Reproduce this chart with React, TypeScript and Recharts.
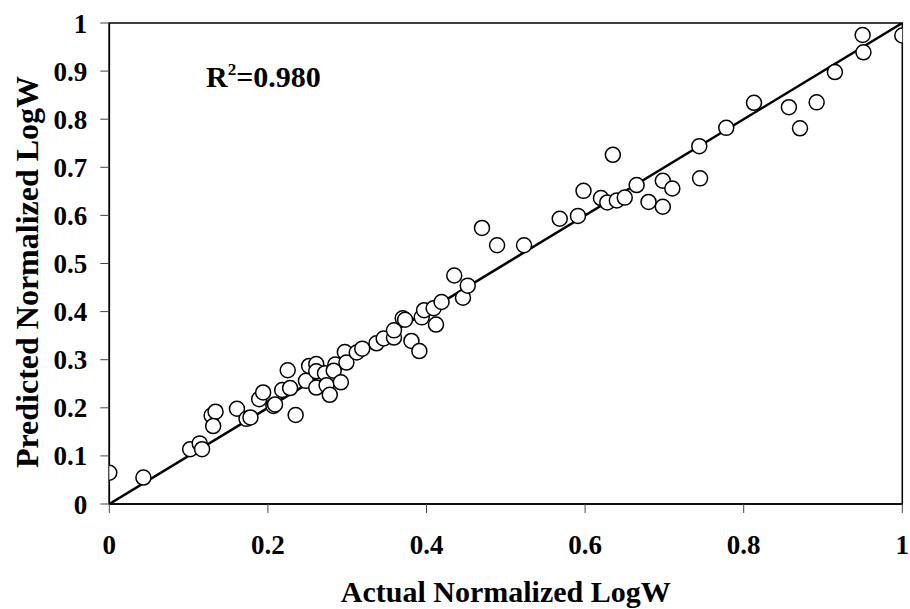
import React from 'react';
import { ScatterChart, Scatter, XAxis, YAxis, ReferenceArea } from 'recharts';

const actual = [
  0.0, 0.043, 0.102, 0.114, 0.117, 0.129, 0.134, 0.131, 0.161, 0.173,
  0.178, 0.189, 0.194, 0.207, 0.209, 0.218, 0.228, 0.225, 0.235, 0.248,
  0.252, 0.261, 0.261, 0.261, 0.272, 0.274, 0.278, 0.285, 0.283, 0.292,
  0.297, 0.299, 0.312, 0.319, 0.337, 0.346, 0.359, 0.359, 0.370, 0.373,
  0.381, 0.391, 0.394, 0.397, 0.409, 0.419, 0.412, 0.435, 0.446, 0.452,
  0.470, 0.489, 0.523, 0.568, 0.591, 0.598, 0.620, 0.628, 0.640, 0.650,
  0.665, 0.635, 0.680, 0.698, 0.698, 0.710, 0.744, 0.745, 0.778, 0.813,
  0.857, 0.871, 0.892, 0.915, 0.950, 0.951, 1.0,
];

const predicted = [
  0.065, 0.055, 0.114, 0.126, 0.114, 0.184, 0.192, 0.162, 0.198, 0.177,
  0.180, 0.218, 0.232, 0.204, 0.207, 0.237, 0.241, 0.278, 0.185, 0.256,
  0.287, 0.291, 0.276, 0.242, 0.272, 0.247, 0.227, 0.290, 0.277, 0.253,
  0.316, 0.294, 0.315, 0.323, 0.334, 0.344, 0.346, 0.361, 0.386, 0.383,
  0.339, 0.318, 0.388, 0.403, 0.407, 0.420, 0.373, 0.475, 0.429, 0.454,
  0.574, 0.538, 0.538, 0.593, 0.599, 0.651, 0.636, 0.627, 0.631, 0.637,
  0.663, 0.726, 0.628, 0.672, 0.618, 0.656, 0.744, 0.677, 0.782, 0.834,
  0.825, 0.781, 0.835, 0.898, 0.975, 0.939, 0.974,
];

const fitX = [0, 1];
const fitY = [0, 1];

const xTicks = [0, 0.2, 0.4, 0.6, 0.8, 1];
const yTicks = [0, 0.1, 0.2, 0.3, 0.4, 0.5, 0.6, 0.7, 0.8, 0.9, 1];

const xTitle = 'Actual Normalized LogW';
const yTitle = 'Predicted Normalized LogW';
const r2Label = '=0.980';

const points = actual.map((x, i) => ({ x, y: predicted[i] }));
const fitLine = fitX.map((x, i) => ({ x, y: fitY[i] }));

const FONT = '"Liberation Serif", "Times New Roman", serif';

const Circle = (props: any) => (
  <circle cx={props.cx} cy={props.cy} r={7.5} fill="#fff" stroke="#000" strokeWidth={1.5} />
);
const NoDot = () => <g />;

const tickStyle = { fontFamily: FONT, fontWeight: 700, fontSize: 27, fill: '#000' };

export default function App() {
  return (
    <div style={{ position: 'absolute', left: 0, top: 0, width: 910, height: 609, background: '#fff' }}>
      <ScatterChart width={910} height={609} margin={{ top: 23, right: 7.7, bottom: 0, left: 0 }}>
        <XAxis
          type="number"
          dataKey="x"
          domain={[0, 1]}
          ticks={xTicks}
          height={105}
          tickSize={9}
          tickMargin={22}
          tick={tickStyle}
          axisLine={{ stroke: '#000', strokeWidth: 1.5 }}
          tickLine={{ stroke: '#444', strokeWidth: 1 }}
          allowDataOverflow
        />
        <YAxis
          type="number"
          dataKey="y"
          domain={[0, 1]}
          ticks={yTicks}
          width={109.3}
          tickSize={9}
          tickMargin={13}
          tick={tickStyle}
          axisLine={{ stroke: '#000', strokeWidth: 1.5 }}
          tickLine={{ stroke: '#444', strokeWidth: 1 }}
          allowDataOverflow
        />
        <ReferenceArea x1={0} x2={1} y1={0} y2={1} fill="none" fillOpacity={0} stroke="#000" strokeWidth={1.5} />
        <Scatter
          data={fitLine}
          line={{ stroke: '#000', strokeWidth: 2.5 }}
          shape={NoDot}
          isAnimationActive={false}
        />
        <Scatter data={points} shape={Circle} isAnimationActive={false} />
        <text
          x={206}
          y={87}
          fontFamily={FONT}
          fontWeight={700}
          fontSize={30}
          fill="#000"
        >
          R<tspan dy={-12} fontSize={17}>2</tspan>
          <tspan dy={12}>{r2Label}</tspan>
        </text>
        <text
          x={505.8}
          y={602}
          textAnchor="middle"
          fontFamily={FONT}
          fontWeight={700}
          fontSize={30}
          fill="#000"
        >
          {xTitle}
        </text>
        <text
          x={27}
          y={272}
          transform="rotate(-90, 27, 272)"
          textAnchor="middle"
          dominantBaseline="central"
          fontFamily={FONT}
          fontWeight={700}
          fontSize={32}
          fill="#000"
        >
          {yTitle}
        </text>
      </ScatterChart>
    </div>
  );
}
